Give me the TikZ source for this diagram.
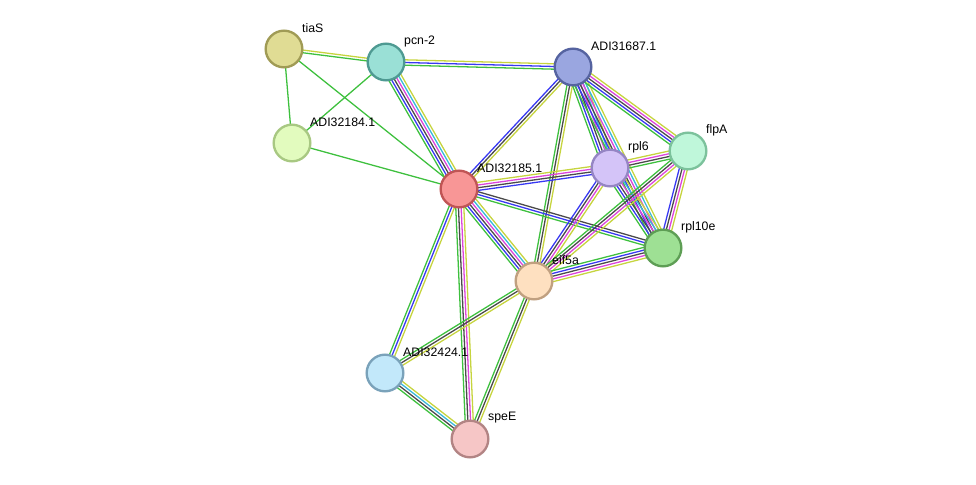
\documentclass[tikz,border=0pt]{standalone}
\usepackage{fontspec}
\setmainfont{Liberation Sans}
\usepackage{xcolor}
\usetikzlibrary{calc,backgrounds}
% evidence channels
\definecolor{nb}{HTML}{3EC03E}
\definecolor{co}{HTML}{3838F2}
\definecolor{cx}{HTML}{4A4A4A}
\definecolor{ex}{HTML}{DC44DC}
\definecolor{db}{HTML}{38B8DA}
\definecolor{tm}{HTML}{C6D43E}
% bundle of parallel strands between two proteins
\newcommand{\bundle}[3]{%
  \edef\cols{#3}%
  \foreach \c [count=\i] in \cols {\xdef\nstr{\i}}%
  \foreach \c [count=\i] in \cols {%
    \pgfmathsetmacro\off{(\i-(\nstr+1)/2)*2.3}%
    \draw[link,draw=\c] ($(#1)!\off pt!90:(#2)$) -- ($(#2)!\off pt!-90:(#1)$);}%
}

\begin{document}
\begin{tikzpicture}[x=0.03cm,y=-0.03cm,font=\fontsize{10.5}{12}\selectfont,
  prot/.style={circle,draw,line width=2pt,minimum size=1.1cm,inner sep=0pt},
  lbl/.style={anchor=west,inner sep=0pt,text=black},
  link/.style={line width=1.1pt}]
  \useasboundingbox (0,0) rectangle (976,485);
  \node[prot,fill={rgb,255:red,224;green,220;blue,148},draw={rgb,255:red,160;green,155;blue,85}] (tiaS) at (284,49) {};
  \node[prot,fill={rgb,255:red,154;green,224;blue,214},draw={rgb,255:red,78;green,154;blue,146}] (pcn) at (386,62) {};
  \node[prot,fill={rgb,255:red,154;green,166;blue,224},draw={rgb,255:red,85;green,99;blue,160}] (a31687) at (573,67) {};
  \node[prot,fill={rgb,255:red,226;green,251;blue,190},draw={rgb,255:red,168;green,200;blue,130}] (a32184) at (292,143) {};
  \node[prot,fill={rgb,255:red,248;green,150;blue,150},draw={rgb,255:red,192;green,85;blue,85}] (a32185) at (459,189) {};
  \node[prot,fill={rgb,255:red,212;green,196;blue,248},draw={rgb,255:red,149;green,133;blue,196}] (rpl6) at (610,168) {};
  \node[prot,fill={rgb,255:red,191;green,247;blue,218},draw={rgb,255:red,124;green,194;blue,156}] (flpA) at (688,151) {};
  \node[prot,fill={rgb,255:red,158;green,224;blue,148},draw={rgb,255:red,94;green,158;blue,85}] (rpl10e) at (663,248) {};
  \node[prot,fill={rgb,255:red,254;green,224;blue,192},draw={rgb,255:red,192;green,160;blue,128}] (eif5a) at (534,281) {};
  \node[prot,fill={rgb,255:red,194;green,232;blue,250},draw={rgb,255:red,122;green,162;blue,186}] (a32424) at (385,373) {};
  \node[prot,fill={rgb,255:red,246;green,198;blue,198},draw={rgb,255:red,178;green,132;blue,132}] (speE) at (470,439) {};
  % names
  \foreach \n/\t in {tiaS/tiaS,pcn/pcn-2,a31687/ADI31687.1,a32184/ADI32184.1,a32185/ADI32185.1,
    rpl6/rpl6,flpA/flpA,rpl10e/rpl10e,eif5a/eif5a,a32424/ADI32424.1,speE/speE}
    \node[lbl] (\n-l) at ($(\n)+(18,-21)$) {\t};
  % interactions
  \begin{scope}[on background layer]
    \foreach \a/\b/\cs in {tiaS/pcn/{nb,tm},tiaS/a32184/{nb},tiaS/a32185/{nb},pcn/a32184/{nb},
      pcn/a31687/{nb,co,tm},pcn/a32185/{nb,co,cx,ex,db,tm},a32184/a32185/{nb},
      a31687/a32185/{co,cx,tm},a31687/eif5a/{nb,cx,tm},a31687/rpl6/{nb,co,cx,ex,db,tm},
      a31687/rpl10e/{nb,co,cx,ex,db,tm},a31687/flpA/{nb,co,cx,ex,tm},a32185/rpl6/{co,cx,ex,tm},
      a32185/rpl10e/{nb,co,cx},a32185/eif5a/{nb,co,cx,ex,db,tm},a32185/a32424/{nb,co,tm},
      a32185/speE/{nb,cx,ex,tm},rpl6/flpA/{nb,cx,ex,tm},rpl6/rpl10e/{nb,co,cx,ex,db,tm},
      rpl6/eif5a/{co,cx,ex,tm},flpA/rpl10e/{co,cx,ex,tm},flpA/eif5a/{nb,cx,ex,tm},
      rpl10e/eif5a/{nb,co,cx,ex,tm},eif5a/a32424/{nb,cx,tm},eif5a/speE/{nb,cx,tm},
      a32424/speE/{nb,cx,db,tm}}
      \bundle{\a}{\b}{\cs};
  \end{scope}
\end{tikzpicture}
\end{document}
